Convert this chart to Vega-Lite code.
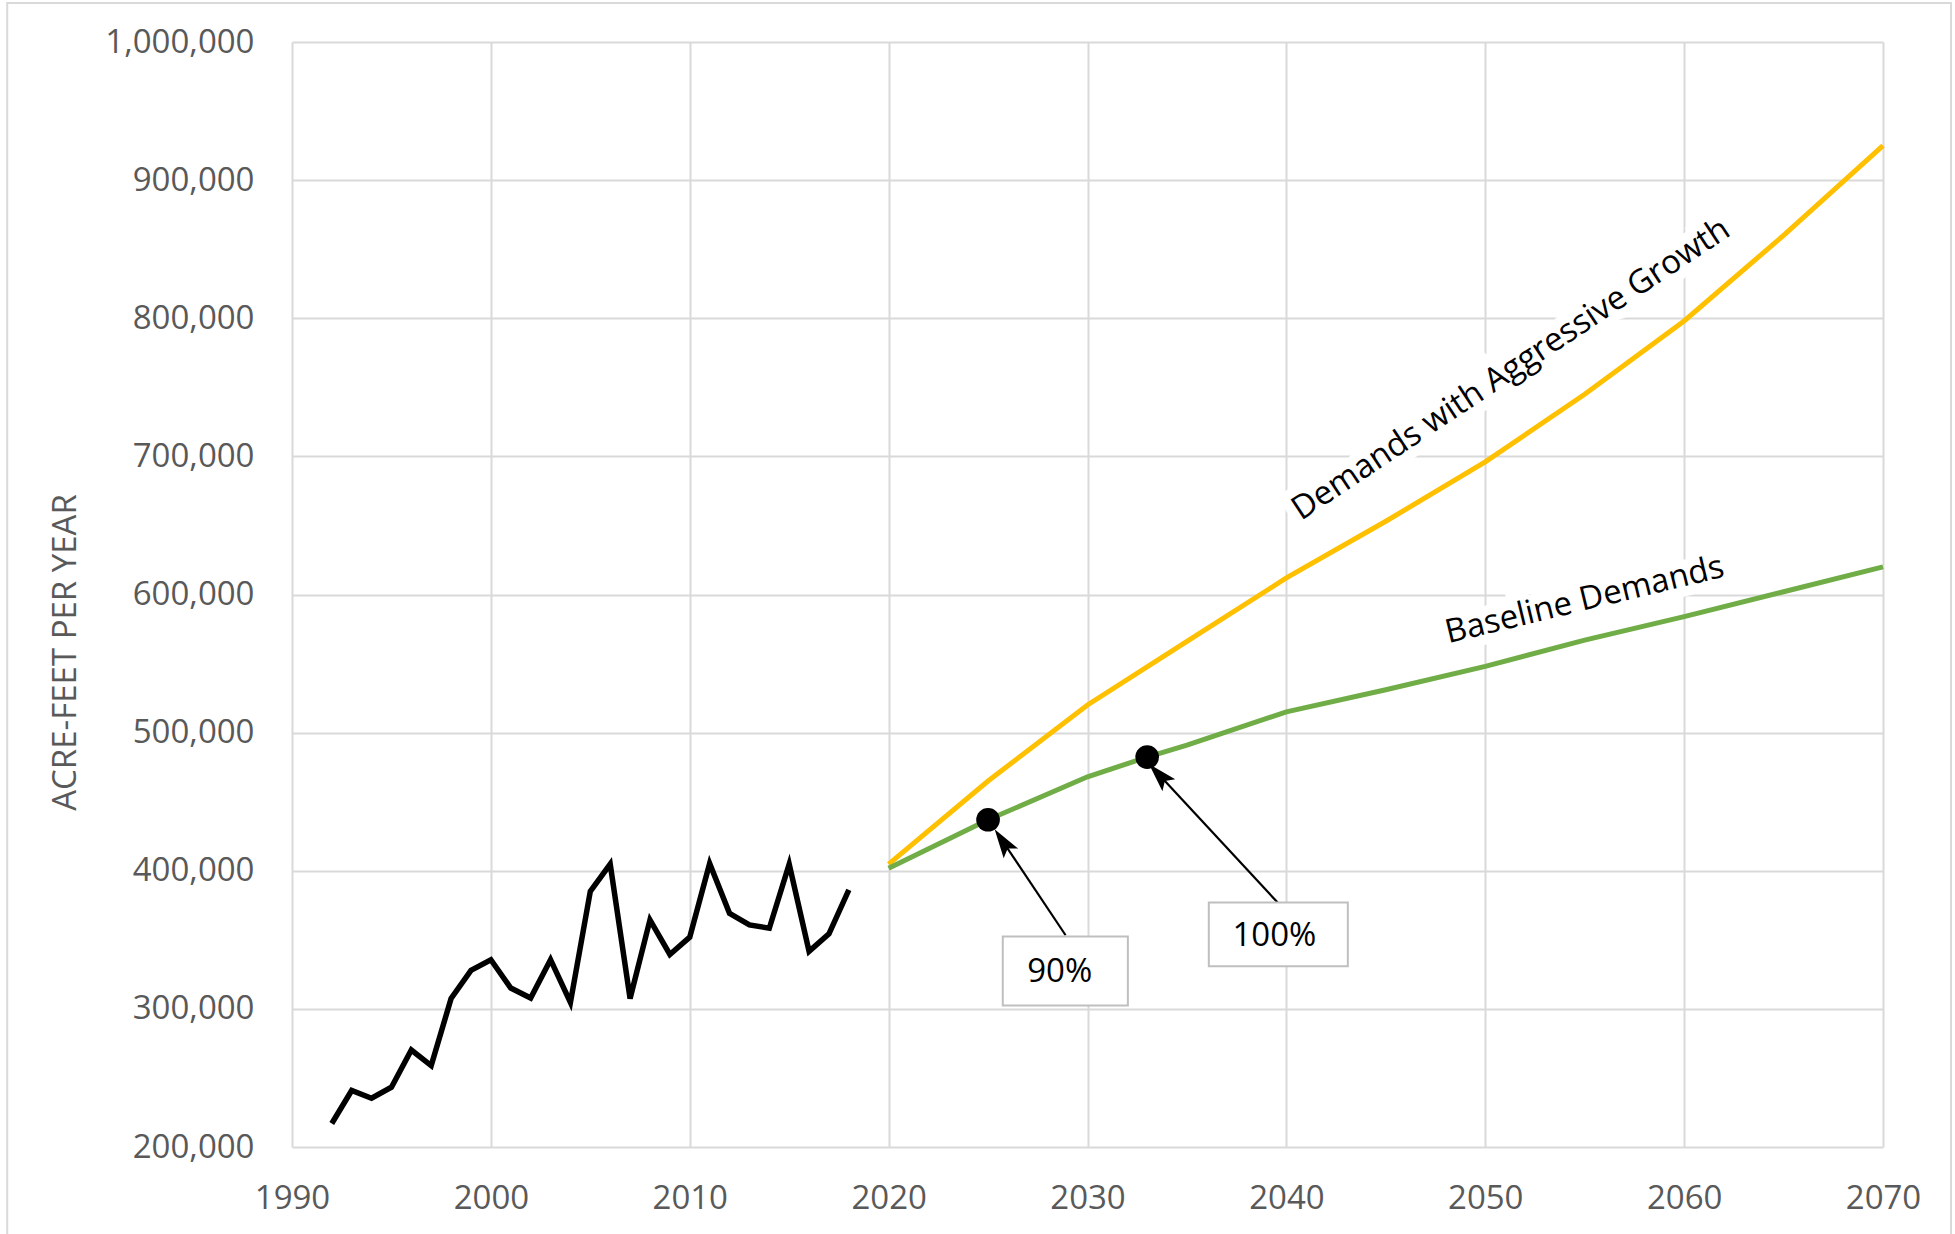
{
  "$schema": "https://vega.github.io/schema/vega-lite/v6.json",
  "autosize": {"type": "none"},
  "padding": {"left": 292, "top": 42, "right": 72, "bottom": 87},
  "width": 1591,
  "height": 1105,
  "background": "white",
  "config": {
    "view": {"stroke": null},
    "font": "Open Sans",
    "axis": {
      "grid": true,
      "gridColor": "#d9d9d9",
      "gridWidth": 2,
      "domain": false,
      "ticks": false,
      "labelFlush": false,
      "labelFont": "Open Sans",
      "labelFontSize": 33,
      "labelColor": "#595959",
      "titleFont": "Open Sans",
      "titleColor": "#595959",
      "titleFontWeight": "normal"
    }
  },
  "datasets": {
    "hist": [
      {"year": 1992, "value": 217000},
      {"year": 1993, "value": 240900},
      {"year": 1994, "value": 235300},
      {"year": 1995, "value": 243300},
      {"year": 1996, "value": 270200},
      {"year": 1997, "value": 258900},
      {"year": 1998, "value": 307500},
      {"year": 1999, "value": 327900},
      {"year": 2000, "value": 335600},
      {"year": 2001, "value": 315100},
      {"year": 2002, "value": 307900},
      {"year": 2003, "value": 335600},
      {"year": 2004, "value": 304600},
      {"year": 2005, "value": 385100},
      {"year": 2006, "value": 404800},
      {"year": 2007, "value": 307500},
      {"year": 2008, "value": 364400},
      {"year": 2009, "value": 339400},
      {"year": 2010, "value": 351900},
      {"year": 2011, "value": 405300},
      {"year": 2012, "value": 369200},
      {"year": 2013, "value": 360800},
      {"year": 2014, "value": 358400},
      {"year": 2015, "value": 404800},
      {"year": 2016, "value": 341600},
      {"year": 2017, "value": 354300},
      {"year": 2018, "value": 386100}
    ],
    "aggr": [
      {"year": 2020, "value": 404800},
      {"year": 2025, "value": 465000},
      {"year": 2030, "value": 520000},
      {"year": 2035, "value": 566000},
      {"year": 2040, "value": 612000},
      {"year": 2045, "value": 653000},
      {"year": 2050, "value": 696000},
      {"year": 2055, "value": 745000},
      {"year": 2060, "value": 798000},
      {"year": 2065, "value": 860000},
      {"year": 2070, "value": 925000}
    ],
    "base": [
      {"year": 2020, "value": 401800},
      {"year": 2025, "value": 436900},
      {"year": 2030, "value": 468000},
      {"year": 2033, "value": 482300},
      {"year": 2035, "value": 491000},
      {"year": 2040, "value": 515000},
      {"year": 2045, "value": 531000},
      {"year": 2050, "value": 548000},
      {"year": 2055, "value": 567000},
      {"year": 2060, "value": 584000},
      {"year": 2065, "value": 602000},
      {"year": 2070, "value": 620000}
    ],
    "dots": [
      {"year": 2025, "value": 436900},
      {"year": 2033, "value": 482300}
    ],
    "arrows": [
      {"x1": 2028.9, "y1": 353300, "x2": 2025.74, "y2": 421300, "angle": 326},
      {"x1": 2039.56, "y1": 377000, "x2": 2033.59, "y2": 469600, "angle": 317}
    ],
    "boxes": [
      {"x1": 2025.74, "x2": 2032.03, "y1": 352400, "y2": 302500, "tx": 2028.6, "ty": 326500, "label": "90%"},
      {"x1": 2036.1, "x2": 2043.09, "y1": 377000, "y2": 330800, "tx": 2039.4, "ty": 353000, "label": "100%"}
    ],
    "labels": [
      {"year": 2051.3, "value": 763000, "label": "Demands with Aggressive Growth", "angle": 326.4},
      {"year": 2055.0, "value": 596000, "label": "Baseline Demands", "angle": 346.4}
    ],
    "frame": [
      {"x1": 1975.68, "x2": 2073.42, "y1": 1028200, "y2": 100000}
    ]
  },
  "layer": [
    {
      "data": {"name": "frame"},
      "mark": {"type": "rect", "fill": null, "stroke": "#d9d9d9", "strokeWidth": 2, "clip": false},
      "encoding": {
        "x": {"field": "x1", "type": "quantitative", "scale": {"domain": [1990, 2070], "nice": false, "zero": false},
          "axis": {"values": [1990, 2000, 2010, 2020, 2030, 2040, 2050, 2060, 2070], "format": "d", "title": null, "labelPadding": 35}},
        "x2": {"field": "x2"},
        "y": {"field": "y1", "type": "quantitative", "scale": {"domain": [200000, 1000000], "nice": false, "zero": false},
          "axis": {"values": [200000, 300000, 400000, 500000, 600000, 700000, 800000, 900000, 1000000], "format": ",d",
            "title": "ACRE-FEET PER YEAR", "titleFontSize": 33, "titleAngle": 270, "titleX": -227, "titleY": 610,
            "titleAlign": "center", "titleBaseline": "middle", "labelPadding": 38}},
        "y2": {"field": "y2"}
      }
    },
    {
      "data": {"name": "labels"},
      "mark": {"type": "text", "font": "Open Sans", "fontSize": 33, "align": "center", "baseline": "middle", "fill": "white", "stroke": "white", "strokeWidth": 20, "strokeJoin": "miter"},
      "encoding": {
        "x": {"field": "year", "type": "quantitative"},
        "y": {"field": "value", "type": "quantitative"},
        "text": {"field": "label"},
        "angle": {"field": "angle", "type": "quantitative", "scale": null}
      }
    },
    {
      "data": {"name": "hist"},
      "mark": {"type": "line", "color": "black", "strokeWidth": 5.5, "strokeJoin": "miter"},
      "encoding": {
        "x": {"field": "year", "type": "quantitative"},
        "y": {"field": "value", "type": "quantitative"}
      }
    },
    {
      "data": {"name": "aggr"},
      "mark": {"type": "line", "color": "#FFC000", "strokeWidth": 5},
      "encoding": {
        "x": {"field": "year", "type": "quantitative"},
        "y": {"field": "value", "type": "quantitative"}
      }
    },
    {
      "data": {"name": "base"},
      "mark": {"type": "line", "color": "#70AD47", "strokeWidth": 5},
      "encoding": {
        "x": {"field": "year", "type": "quantitative"},
        "y": {"field": "value", "type": "quantitative"}
      }
    },
    {
      "data": {"name": "dots"},
      "mark": {"type": "point", "shape": "circle", "filled": true, "color": "black", "size": 560, "opacity": 1},
      "encoding": {
        "x": {"field": "year", "type": "quantitative"},
        "y": {"field": "value", "type": "quantitative"}
      }
    },
    {
      "data": {"name": "arrows"},
      "mark": {"type": "rule", "color": "black", "strokeWidth": 2.2},
      "encoding": {
        "x": {"field": "x1", "type": "quantitative"},
        "y": {"field": "y1", "type": "quantitative"},
        "x2": {"field": "x2"},
        "y2": {"field": "y2"}
      }
    },
    {
      "data": {"name": "arrows"},
      "mark": {"type": "point", "shape": "M0,-1L0.6,1L0,0.6L-0.6,1Z", "filled": true, "color": "black", "size": 850, "opacity": 1},
      "encoding": {
        "x": {"field": "x2", "type": "quantitative"},
        "y": {"field": "y2", "type": "quantitative"},
        "angle": {"field": "angle", "type": "quantitative", "scale": null}
      }
    },
    {
      "data": {"name": "boxes"},
      "mark": {"type": "rect", "fill": "white", "stroke": "#bfbfbf", "strokeWidth": 2},
      "encoding": {
        "x": {"field": "x1", "type": "quantitative"},
        "x2": {"field": "x2"},
        "y": {"field": "y1", "type": "quantitative"},
        "y2": {"field": "y2"}
      }
    },
    {
      "data": {"name": "boxes"},
      "mark": {"type": "text", "font": "Open Sans", "fontSize": 33, "align": "center", "baseline": "middle", "color": "black"},
      "encoding": {
        "x": {"field": "tx", "type": "quantitative"},
        "y": {"field": "ty", "type": "quantitative"},
        "text": {"field": "label"}
      }
    },
    {
      "data": {"name": "labels"},
      "mark": {"type": "text", "font": "Open Sans", "fontSize": 33, "align": "center", "baseline": "middle", "color": "black"},
      "encoding": {
        "x": {"field": "year", "type": "quantitative"},
        "y": {"field": "value", "type": "quantitative"},
        "text": {"field": "label"},
        "angle": {"field": "angle", "type": "quantitative", "scale": null}
      }
    }
  ]
}
